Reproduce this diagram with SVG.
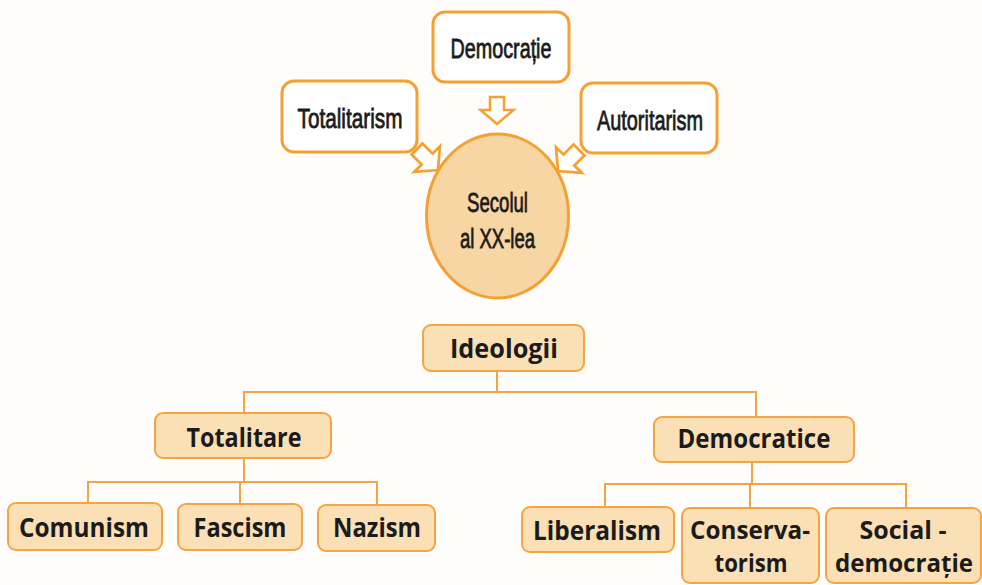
<svg xmlns="http://www.w3.org/2000/svg" width="982" height="585" viewBox="0 0 982 585">
<style>
.top{fill:#ffffff;stroke:#f4a132;stroke-width:3}
.box{fill:#fbe0b5;stroke:#f4a443;stroke-width:2}
.arr{fill:#ffffff;stroke:#f4a132;stroke-width:2.5;stroke-linejoin:miter}
.con{fill:none;stroke:#f4a443;stroke-width:2}
.tc{font-family:"Liberation Sans Narrow","Liberation Sans",Arial,sans-serif;font-size:28px;fill:#1b1b1b;stroke:#1b1b1b;stroke-width:0.8;text-anchor:middle}
.tb{font-family:"Open Sans","Noto Sans","Liberation Sans",sans-serif;font-weight:bold;font-size:27px;fill:#1b1b1b;text-anchor:middle}
.tb2{font-size:25px}
</style>
<defs>
<polygon id="darr" points="-7,0 7,0 7,13 16.5,13 0,27 -16.5,13 -7,13"/>
</defs>
<rect width="982" height="585" fill="#fefdfb"/>

<g id="connectors">
<use href="#darr" class="arr" transform="translate(497,97)"/>
<use href="#darr" class="arr" transform="translate(417,149) rotate(-45) scale(1.1)"/>
<use href="#darr" class="arr" transform="translate(579,150) rotate(45) scale(1.1)"/>
<path class="con" d="M497,371 V392 M244,413 V392 H756 V417"/>
<path class="con" d="M244,458 V482 M88,503 V482 H377 V505 M240,482 V504"/>
<path class="con" d="M752,462 V484 M605,507 V484 H906 V508 M750,484 V508"/>
</g>

<g id="democratie">
<rect class="top" x="433" y="12" width="136" height="70" rx="12"/>
<text class="tc" x="501" y="58" textLength="101" lengthAdjust="spacingAndGlyphs">Democrație</text>
</g>
<g id="totalitarism">
<rect class="top" x="282" y="81" width="135" height="71" rx="12"/>
<text class="tc" x="350" y="128" textLength="105" lengthAdjust="spacingAndGlyphs">Totalitarism</text>
</g>
<g id="autoritarism">
<rect class="top" x="581" y="83" width="136" height="70" rx="12"/>
<text class="tc" x="650" y="130" textLength="106" lengthAdjust="spacingAndGlyphs">Autoritarism</text>
</g>
<g id="secolul">
<ellipse cx="497.5" cy="216" rx="71" ry="82" fill="#f7d6a3" stroke="#f4a132" stroke-width="3"/>
<text class="tc" x="497.5" y="212" textLength="61" lengthAdjust="spacingAndGlyphs">Secolul</text>
<text class="tc" x="497.5" y="248" textLength="75" lengthAdjust="spacingAndGlyphs">al XX-lea</text>
</g>

<g id="ideologii">
<rect class="box" x="423" y="325" width="161" height="46" rx="8"/>
<text class="tb" x="504" y="358" textLength="108" lengthAdjust="spacingAndGlyphs">Ideologii</text>
</g>
<g id="totalitare">
<rect class="box" x="155" y="413" width="176" height="45" rx="8"/>
<text class="tb" x="244" y="447" textLength="115" lengthAdjust="spacingAndGlyphs">Totalitare</text>
</g>
<g id="democratice">
<rect class="box" x="654" y="417" width="200" height="45" rx="8"/>
<text class="tb" x="754" y="448" textLength="153" lengthAdjust="spacingAndGlyphs">Democratice</text>
</g>
<g id="comunism">
<rect class="box" x="8" y="503" width="154" height="47" rx="8"/>
<text class="tb" x="84" y="537" textLength="130" lengthAdjust="spacingAndGlyphs">Comunism</text>
</g>
<g id="fascism">
<rect class="box" x="178" y="504" width="124" height="46" rx="8"/>
<text class="tb" x="240" y="537" textLength="93" lengthAdjust="spacingAndGlyphs">Fascism</text>
</g>
<g id="nazism">
<rect class="box" x="318" y="505" width="117" height="46" rx="8"/>
<text class="tb" x="377" y="537" textLength="88" lengthAdjust="spacingAndGlyphs">Nazism</text>
</g>
<g id="liberalism">
<rect class="box" x="522" y="507" width="152" height="45" rx="8"/>
<text class="tb" x="597" y="540" textLength="128" lengthAdjust="spacingAndGlyphs">Liberalism</text>
</g>
<g id="conservatorism">
<rect class="box" x="682" y="508" width="137" height="75" rx="8"/>
<text class="tb tb2" x="750" y="539" textLength="120" lengthAdjust="spacingAndGlyphs">Conserva-</text>
<text class="tb tb2" x="751" y="572" textLength="73" lengthAdjust="spacingAndGlyphs">torism</text>
</g>
<g id="socialdemocratie">
<rect class="box" x="826" y="508" width="155" height="75" rx="8"/>
<text class="tb tb2" x="903" y="539" textLength="87" lengthAdjust="spacingAndGlyphs">Social -</text>
<text class="tb tb2" x="904" y="572" textLength="138" lengthAdjust="spacingAndGlyphs">democrație</text>
</g>
</svg>
